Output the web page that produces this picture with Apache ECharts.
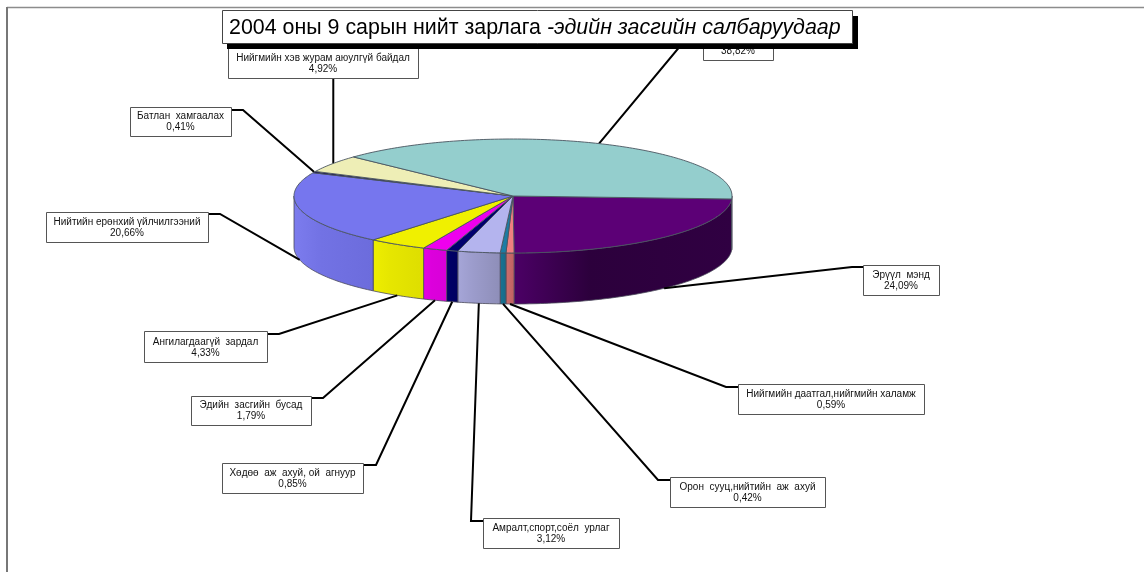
<!DOCTYPE html>
<html>
<head>
<meta charset="utf-8">
<title>2004 оны 9 сарын нийт зарлага</title>
<script src="https://cdn.jsdelivr.net/npm/echarts@6/dist/echarts.min.js"></script>
<style>
  html, body { margin: 0; padding: 0; background: #fff; }
  #chart { width: 1144px; height: 572px; }
</style>
</head>
<body>
<div id="chart"></div>
<script>
// slices run clockwise from the right edge; the last name is hidden behind the title in the picture
const categories = [
  'Эрүүл  мэнд',
  'Нийгмийн даатгал,нийгмийн халамж',
  'Орон  сууц,нийтийн  аж  ахуй',
  'Амралт,спорт,соёл  урлаг',
  'Хөдөө  аж  ахуй, ой  агнуур',
  'Эдийн  засгийн  бусад',
  'Ангилагдаагүй  зардал',
  'Нийтийн ерөнхий үйлчилгээний',
  'Батлан  хамгаалах',
  'Нийгмийн хэв журам аюулгүй байдал',
  ''
]
const shares = [24.09, 0.59, 0.42, 3.12, 0.85, 1.79, 4.33, 20.66, 0.41, 4.92, 38.82]
const shareLabels = ['24,09%', '0,59%', '0,42%', '3,12%', '0,85%', '1,79%', '4,33%', '20,66%', '0,41%', '4,92%', '38,82%']

const topColors = ['#5c0076', '#f08080', '#1c7ca4', '#b4b4ee', '#00006e', '#ee00ee', '#f0f000', '#7676ee', '#1a0a50', '#eeeeb6', '#94cecd']
const wallColors = [
  ['#4c0066', '#2c003c', '#300042'],
  ['#c86a6a', '#c86a6a', '#c06060'],
  ['#18708f', '#18708f', '#166a88'],
  ['#a6a6d8', '#9c9ccc', '#8e8eb8'],
  ['#000066', '#000066', '#000060'],
  ['#e400e4', '#dc00dc', '#d800d8'],
  ['#eeee00', '#e6e600', '#dede00'],
  ['#7c7cee', '#7272e4', '#6c6cdc'],
  ['#1a0a50', '#1a0a50', '#1a0a50'],
  ['#d8d8a0', '#d8d8a0', '#d8d8a0'],
  ['#5c8888', '#5c8888', '#5c8888']
]

// pie geometry
const cx = 513, cy = 196, rx = 219, ry = 57, depth = 51, startDeg = 3

// label boxes [left, top, right, bottom] and elbow of each leader, same order as categories
const labelBoxes = [
  [863, 265, 939, 295], [738, 384, 924, 414], [670, 477, 825, 507], [483, 518, 619, 548],
  [222, 463, 363, 493], [191, 396, 311, 425], [144, 331, 267, 362], [46, 212, 208, 242],
  [130, 107, 231, 136], [228, 45, 418, 78], [703, 30, 773, 60]
]
const elbows = [
  [852, 267, 863], [726, 387, 738], [658, 480, 670], [471, 521, 483],
  [376, 465, 363], [323, 398, 311], [279, 334, 267], [220, 214, 208],
  [243, 110, 231], null, [691, 33, 703]
]

const total = shares.reduce((a, b) => a + b, 0)
let angles = [startDeg]
shares.forEach((s, i) => angles.push(angles[i] + s / total * 360))

function rim(deg, dy) {
  const t = deg * Math.PI / 180
  return [cx + rx * Math.cos(t), cy + ry * Math.sin(t) + (dy || 0)]
}
function arc(a, b, dy) {
  let pts = []
  const n = Math.max(2, Math.ceil(Math.abs(b - a)))
  for (let k = 0; k <= n; k++) pts.push(rim(a + (b - a) * k / n, dy))
  return pts
}

const sliceData = shares.map((s, i) => ({ value: [i, s] }))

function renderWall(params, api) {
  const i = api.value(0)
  let a = angles[i], b = angles[i + 1]
  // only the near half of the pie shows its side
  if (a >= 180) { a = Math.max(a, 360); if (b <= a) return null }
  else b = Math.min(b, 180)
  const c = wallColors[i]
  return {
    type: 'polygon',
    shape: { points: arc(a, b, 0).concat(arc(b, a, depth)) },
    style: {
      fill: new echarts.graphic.LinearGradient(0, 0, 1, 0, [
        { offset: 0, color: c[0] }, { offset: 0.35, color: c[1] }, { offset: 1, color: c[2] }
      ]),
      stroke: '#4a4a5a',
      lineWidth: 0.8
    }
  }
}

function renderTop(params, api) {
  const i = api.value(0)
  return {
    type: 'polygon',
    shape: { points: [[cx, cy]].concat(arc(angles[i], angles[i + 1], 0)) },
    style: { fill: topColors[i], stroke: '#4a5560', lineWidth: 0.9 }
  }
}

function renderLabel(params, api) {
  const i = api.value(0)
  const mid = (angles[i] + angles[i + 1]) / 2
  // leaders of the near slices stop at the bottom rim
  const end = rim(mid, mid < 180 ? depth : 0)
  const box = labelBoxes[i], e = elbows[i]
  const tx = (box[0] + box[2]) / 2
  const leader = e
    ? [[e[2], e[1]], [e[0], e[1]], end]
    : [[end[0] + 1, box[3]], [end[0] + 1, end[1]]]
  return {
    type: 'group',
    children: [
      { type: 'polyline', shape: { points: leader }, style: { fill: null, stroke: '#000', lineWidth: 2 } },
      {
        type: 'rect',
        shape: { x: box[0] + 0.5, y: box[1] + 0.5, width: box[2] - box[0], height: box[3] - box[1] },
        style: { fill: '#fff', stroke: '#555', lineWidth: 1 }
      },
      {
        type: 'text',
        style: {
          x: tx, y: box[3] - 14.5, text: categories[i] + '\n' + shareLabels[i],
          fill: '#111', font: '10px "Liberation Sans"', align: 'center', verticalAlign: 'middle', lineHeight: 11
        }
      }
    ]
  }
}

const myChart = echarts.init(document.getElementById('chart'))
myChart.setOption({
  animation: false,
  backgroundColor: '#fff',
  graphic: [
    { type: 'line', z: 1, shape: { x1: 7, y1: 7.5, x2: 1144, y2: 7.5 }, style: { stroke: '#8c8c8c', lineWidth: 1.5 } },
    { type: 'line', z: 1, shape: { x1: 7, y1: 7, x2: 7, y2: 572 }, style: { stroke: '#777', lineWidth: 2 } },
    { type: 'rect', z: 100, shape: { x: 227, y: 16, width: 631, height: 33 }, style: { fill: '#000' } },
    { type: 'rect', z: 101, shape: { x: 222.5, y: 10.5, width: 630, height: 33 }, style: { fill: '#fff', stroke: '#444', lineWidth: 1 } },
    {
      type: 'text', z: 102, x: 229, y: 28,
      style: {
        text: '{a|2004 оны 9 сарын нийт зарлага }{b|-эдийн засгийн салбаруудаар}',
        verticalAlign: 'middle',
        rich: {
          a: { font: '21.4px "Liberation Sans"', fill: '#000' },
          b: { font: 'italic 21.4px "Liberation Sans"', fill: '#000' }
        }
      }
    }
  ],
  series: [
    { type: 'custom', coordinateSystem: 'none', z: 2, renderItem: renderWall, data: sliceData, silent: true },
    { type: 'custom', coordinateSystem: 'none', z: 3, renderItem: renderLabel, data: sliceData, silent: true },
    { type: 'custom', coordinateSystem: 'none', z: 4, renderItem: renderTop, data: sliceData, silent: true }
  ]
})
</script>
</body>
</html>
